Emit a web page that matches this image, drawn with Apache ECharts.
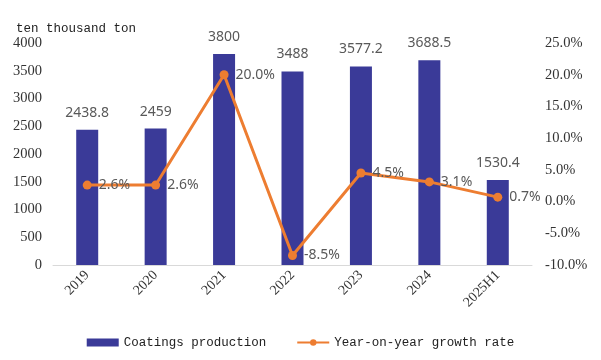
<!DOCTYPE html>
<html>
<head>
<meta charset="utf-8">
<script src="https://cdn.jsdelivr.net/npm/echarts@6/dist/echarts.min.js"></script>
<style>html,body{margin:0;padding:0;background:#fff;}#c{width:601px;height:360px;}</style>
</head>
<body>
<div id="c"></div>
<script>
var categories = ['2019', '2020', '2021', '2022', '2023', '2024', '2025H1'];
var production = [2438.8, 2459, 3800, 3488, 3577.2, 3688.5, 1530.4];
var growth = [2.6, 2.6, 20.0, -8.5, 4.5, 3.1, 0.7];
var productionName = 'Coatings production';
var growthName = 'Year-on-year growth rate';
var unitLabel = 'ten thousand ton';

var SERIF = '"Liberation Serif", "DejaVu Serif", serif';
var MONO = '"Liberation Mono", "DejaVu Sans Mono", monospace';

var chart = echarts.init(document.getElementById('c'));
chart.setOption({
  animation: false,
  backgroundColor: '#fff',
  title: {
    text: unitLabel, left: 11, top: 17,
    textStyle: {fontFamily: MONO, fontSize: 12.5, fontWeight: 'normal', color: '#222'}
  },
  legend: {
    left: 'center', top: 331, itemGap: 30, itemWidth: 32, itemHeight: 8,
    textStyle: {fontFamily: MONO, fontSize: 12.5, color: '#222'},
    data: [
      {name: productionName, icon: 'rect', itemStyle: {color: '#3A3A98'}},
      {name: growthName}
    ]
  },
  grid: {left: 53, right: 69, top: 43, bottom: 95},
  xAxis: {
    type: 'category', data: categories,
    axisLine: {lineStyle: {color: '#D9D9D9', width: 1}},
    axisTick: {show: false},
    axisLabel: {rotate: 45, margin: 8, fontFamily: SERIF, fontSize: 14, color: '#333', interval: 0}
  },
  yAxis: [
    {
      type: 'value', min: 0, max: 4000, interval: 500,
      splitLine: {show: false}, axisLine: {show: false}, axisTick: {show: false},
      axisLabel: {margin: 11, fontFamily: SERIF, fontSize: 14.5, color: '#333',
        formatter: function (v) { return String(v); }}
    },
    {
      type: 'value', min: -10, max: 25, interval: 5,
      splitLine: {show: false}, axisLine: {show: false}, axisTick: {show: false},
      axisLabel: {margin: 13, fontFamily: SERIF, fontSize: 14.5, color: '#333',
        formatter: function (v) { return v.toFixed(1) + '%'; }}
    }
  ],
  series: [
    {
      name: productionName, type: 'bar', data: production, barWidth: 22,
      itemStyle: {color: '#3A3A98'},
      label: {show: true, position: 'top', distance: 10, fontFamily: 'Noto Sans', fontSize: 14, color: '#595959'}
    },
    {
      name: growthName, type: 'line', yAxisIndex: 1, data: growth,
      lineStyle: {color: '#ED7D31', width: 3},
      itemStyle: {color: '#ED7D31'},
      symbol: 'circle', symbolSize: 9,
      label: {show: true, position: 'right', distance: 7, fontFamily: 'Noto Sans', fontSize: 14, color: '#595959',
        formatter: function (p) { return p.value.toFixed(1) + '%'; }}
    }
  ]
});
</script>
</body>
</html>
